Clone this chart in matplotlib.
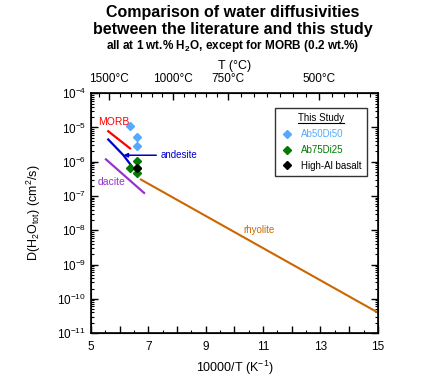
import numpy as np
import matplotlib
matplotlib.use("Agg")
import matplotlib.pyplot as plt
from matplotlib.lines import Line2D
from matplotlib.ticker import MultipleLocator, LogLocator, NullFormatter, FixedLocator

plt.rcParams['font.family'] = ['Liberation Sans', 'DejaVu Sans']
plt.rcParams['mathtext.fontset'] = 'custom'
plt.rcParams['mathtext.rm'] = 'Liberation Sans'
plt.rcParams['mathtext.it'] = 'Liberation Sans:italic'
plt.rcParams['mathtext.bf'] = 'Liberation Sans:bold'
plt.rcParams['mathtext.default'] = 'regular'

# literature curves: x = 10000/T (K^-1), y = log10 D (cm^2/s)
morb_x = [5.60, 6.36]
morb_logD = [-5.11, -5.61]
andesite_x = [5.60, 6.13, 6.42]
andesite_logD = [-5.35, -5.81, -6.13]
dacite_x = [5.52, 6.85]
dacite_logD = [-5.93, -6.91]
rhyolite_x = [6.74, 15.0]
rhyolite_logD = [-6.52, -10.40]

# this study
ab50_x = [6.36, 6.59, 6.59]
ab50_logD = [-4.96, -5.29, -5.54]
ab75_x = [6.59, 6.36, 6.59, 6.59]
ab75_logD = [-5.97, -6.17, -6.17, -6.32]
hab_x = [6.59]
hab_logD = [-6.17]

temp_labels = [1500, 1000, 750, 500]

fig = plt.figure(figsize=(4.44, 3.82), dpi=100)
ax = fig.add_axes([0.205, 0.128, 0.646, 0.628])

def D(v):
    return 10 ** np.array(v)

ax.plot(morb_x, D(morb_logD), color='#ff0000', lw=1.6)
ax.plot(andesite_x, D(andesite_logD), color='#0000cc', lw=1.6)
ax.plot(dacite_x, D(dacite_logD), color='#9933cc', lw=1.6)
ax.plot(rhyolite_x, D(rhyolite_logD), color='#cc6600', lw=1.5)

ax.plot(ab50_x, D(ab50_logD), 'D', color='#55aaff', ms=4.5, ls='none', label='Ab50Di50')
ax.plot(ab75_x, D(ab75_logD), 'D', color='#007a00', ms=4.5, ls='none', label='Ab75Di25')
ax.plot(hab_x, D(hab_logD), 'D', color='black', ms=4.5, ls='none', label='High-Al basalt')

# labels on the curves
ax.text(5.24, 10 ** -4.84, 'MORB', color='#ff0000', fontsize=7.5, va='center')
ax.text(5.24, 10 ** -6.59, 'dacite', color='#9933cc', fontsize=7.5, va='center')
ax.text(10.3, 10 ** -7.98, 'rhyolite', color='#cc6600', fontsize=7, va='center')
ax.annotate('andesite', xy=(6.13, 10 ** -5.81), xytext=(7.42, 10 ** -5.81),
            color='#0000cc', fontsize=7, va='center',
            arrowprops=dict(arrowstyle='-|>', color='#0000cc', lw=1.1,
                            mutation_scale=6, shrinkA=1, shrinkB=0))

ax.set_xlim(5, 15)
ax.set_yscale('log')
ax.set_ylim(1e-11, 1e-4)
ax.xaxis.set_minor_locator(MultipleLocator(0.5))
ax.set_xticks(range(5, 16))
ax.set_xticklabels([str(v) if v % 2 == 1 else '' for v in range(5, 16)])
ax.yaxis.set_major_locator(LogLocator(base=10, numticks=20))
ax.yaxis.set_minor_locator(LogLocator(base=10, subs=np.arange(2, 10), numticks=20))
ax.yaxis.set_minor_formatter(NullFormatter())
ax.tick_params(which='both', direction='in', right=True, labelsize=8.5)
ax.tick_params(which='major', length=5, width=1)
ax.tick_params(which='minor', length=2.5, width=0.8)
ax.tick_params(axis='x', pad=6)
for s in ax.spines.values():
    s.set_linewidth(1.2)

ax.set_xlabel('10000/T (K$^{-1}$)', fontsize=9)
ax.set_ylabel('D(H$_2$O$_{tot}$) (cm$^2$/s)', fontsize=9, labelpad=10)

# temperature axis on top
top = ax.twiny()
top.set_xlim(ax.get_xlim())
tpos = [10000 / (t + 273.15) for t in temp_labels]
top.set_xticks(tpos)
top.set_xticklabels([f'{t}\u00b0C' for t in temp_labels])
minor = []
for a, b, n in zip(tpos[:-1], tpos[1:], [6, 5, 7]):
    minor += list(np.linspace(a, b, n + 1)[1:-1])
step = (tpos[3] - tpos[2]) / 7
minor += list(np.arange(tpos[3] + step, 15.01, step))
minor.append(tpos[0] - (tpos[1] - tpos[0]) / 6)
top.xaxis.set_minor_locator(FixedLocator(minor))
top.tick_params(which='both', direction='in', labelsize=8.5, pad=6)
top.tick_params(which='major', length=5, width=1)
top.tick_params(which='minor', length=3, width=0.8)
top.set_xlabel('T (\u00b0C)', fontsize=9, labelpad=3)

leg = ax.legend(loc='upper right', bbox_to_anchor=(0.978, 0.957), fontsize=7,
                title='This Study', title_fontsize=7, frameon=True, fancybox=False,
                edgecolor='black', handlelength=1.4, handletextpad=0.8,
                borderpad=0.5, labelspacing=0.6, markerscale=0.9)
leg.get_frame().set_linewidth(1)
for txt, c in zip(leg.get_texts(), ['#55aaff', '#007a00', 'black']):
    txt.set_color(c)

fig.text(0.525, 0.966, 'Comparison of water diffusivities', ha='center', va='center',
         fontsize=11.5, fontweight='bold')
fig.text(0.525, 0.924, 'between the literature and this study', ha='center', va='center',
         fontsize=11.5, fontweight='bold')
fig.text(0.525, 0.880, 'all at 1 wt.% H$_\\mathbf{2}$O, except for MORB (0.2 wt.%)',
         ha='center', va='center', fontsize=8.5, fontweight='bold')

# underline the legend title
fig.canvas.draw()
bb = leg.get_title().get_window_extent()
fig.add_artist(Line2D([bb.x0, bb.x1], [bb.y0 + 0.5, bb.y0 + 0.5], transform=None,
                      color='black', lw=0.8))

fig.savefig('out.png', dpi=100)
